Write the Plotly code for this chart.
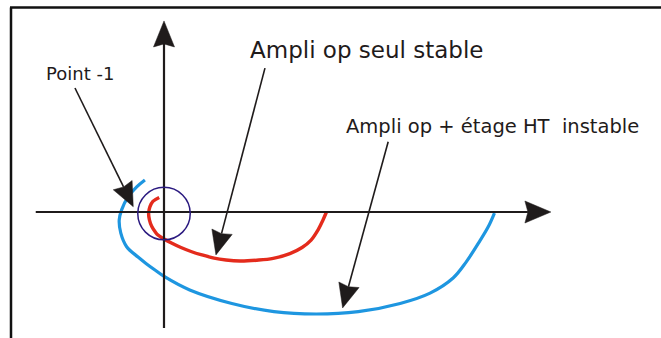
import numpy as np
import plotly.graph_objects as go

# ---- data (Nyquist plane, unit = distance to the point -1) ----
red_re = [-0.18, -0.42, -0.53, -0.58, -0.55, -0.46, -0.34, -0.23, 0.00, 0.30, 0.64, 1.02,
          1.43, 1.89, 2.34, 2.87, 3.50, 4.12, 4.75, 5.21, 5.55, 5.81, 6.00, 6.13]
red_im = [0.55, 0.40, 0.20, -0.04, -0.30, -0.55, -0.74, -0.87, -1.02, -1.18, -1.34, -1.49,
          -1.62, -1.74, -1.81, -1.85, -1.82, -1.75, -1.57, -1.34, -1.06, -0.68, -0.30, 0.00]

blue_re = [-0.72, -1.03, -1.35, -1.60, -1.69, -1.63, -1.41, -0.98, -0.68, -0.34, 0.02,
           0.97, 2.56, 4.15, 5.74, 7.33, 8.91, 10.04, 10.91, 11.40, 11.92, 12.23, 12.47]
blue_im = [1.21, 0.95, 0.58, 0.08, -0.30, -0.80, -1.31, -1.70, -1.94, -2.19, -2.44,
           -2.94, -3.45, -3.76, -3.85, -3.76, -3.45, -3.06, -2.49, -1.89, -1.09, -0.57, -0.04]

circle_center = [0.0, -0.06]
circle_radius = 0.99

real_axis = [-4.84, 14.60]
imag_axis = [-4.38, 7.21]

labels = ["Point -1", "Ampli op seul stable", "Ampli op + étage HT\u00a0 instable"]
label_re = [-4.51, 3.17, 6.81]
label_im = [5.21, 6.11, 3.21]
label_size = [18, 23, 19.5]
arrow_start_re = [-3.36, 3.81, 8.46]
arrow_start_im = [4.68, 5.43, 2.65]
arrow_tip_re = [-1.16, 1.96, 6.74]
arrow_tip_im = [0.20, -1.62, -3.62]

# ---- styling ----
UNIT = 26.5  # pixels per unit
W, H = 661, 338
OX, OY = 164, 212
INK = "#1f1b1b"
RED = "#e42b1c"
BLUE = "#1e96e0"
NAVY = "#2b1a80"
FONT = "DejaVu Sans"

fig = go.Figure()


def head(sx, sy, tx, ty, length, half, notch):
    d = np.array([tx - sx, ty - sy], float)
    d /= np.linalg.norm(d)
    p = np.array([-d[1], d[0]])
    tip = np.array([tx, ty])
    b = tip - length * d
    pts = [tip, b + half * p, b + notch * d, b - half * p, tip]
    return [q[0] for q in pts], [q[1] for q in pts], b + notch * d


def arrow(sx, sy, tx, ty, width, length, half, notch):
    hx, hy, base = head(sx, sy, tx, ty, length, half, notch)
    fig.add_trace(go.Scatter(x=[sx, base[0]], y=[sy, base[1]], mode="lines",
                             line=dict(color=INK, width=width), hoverinfo="skip"))
    fig.add_trace(go.Scatter(x=hx, y=hy, mode="lines", fill="toself", fillcolor=INK,
                             line=dict(color=INK, width=0.5), hoverinfo="skip"))


# curves
fig.add_trace(go.Scatter(x=blue_re, y=blue_im, mode="lines",
                         line=dict(color=BLUE, width=3.2, shape="spline", smoothing=1.0),
                         hoverinfo="skip"))
fig.add_trace(go.Scatter(x=red_re, y=red_im, mode="lines",
                         line=dict(color=RED, width=3.4, shape="spline", smoothing=1.0),
                         hoverinfo="skip"))

# axes with arrows
arrow(real_axis[0], 0, real_axis[1], 0, 2.2, 26 / UNIT, 11 / UNIT, 3 / UNIT)
arrow(0, imag_axis[0], 0, imag_axis[1], 2.2, 26 / UNIT, 10.5 / UNIT, 3 / UNIT)

# label arrows
for i in range(len(labels)):
    arrow(arrow_start_re[i], arrow_start_im[i], arrow_tip_re[i], arrow_tip_im[i],
          1.6, 24 / UNIT, 10.5 / UNIT, 2 / UNIT)
    fig.add_annotation(x=label_re[i], y=label_im[i], text=labels[i], showarrow=False,
                       xanchor="left", yanchor="middle",
                       font=dict(family=FONT, size=label_size[i], color=INK))

# unit circle
fig.add_shape(type="circle", xref="x", yref="y",
              x0=circle_center[0] - circle_radius, x1=circle_center[0] + circle_radius,
              y0=circle_center[1] - circle_radius, y1=circle_center[1] + circle_radius,
              line=dict(color=NAVY, width=1.5))

# frame (top and left border)
fig.add_shape(type="line", xref="paper", yref="paper", x0=10 / W, x1=1, y0=1 - 7.5 / H, y1=1 - 7.5 / H,
              line=dict(color="#111111", width=2.5))
fig.add_shape(type="line", xref="paper", yref="paper", x0=11 / W, x1=11 / W, y0=0, y1=1 - 7.5 / H,
              line=dict(color="#111111", width=2.5))

fig.update_layout(
    width=W, height=H, margin=dict(l=0, r=0, t=0, b=0),
    paper_bgcolor="white", plot_bgcolor="white", showlegend=False,
    xaxis=dict(visible=False, range=[-OX / UNIT, (W - OX) / UNIT], fixedrange=True),
    yaxis=dict(visible=False, range=[(OY - H) / UNIT, OY / UNIT], fixedrange=True),
)

fig.write_html("out.html", config={"displayModeBar": False},
               post_script="document.body.style.margin='0';document.body.style.overflow='hidden';")
